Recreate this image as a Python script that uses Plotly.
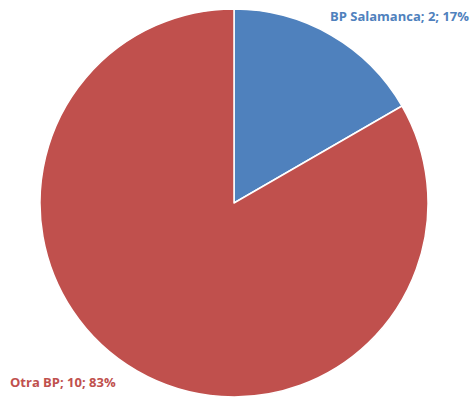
import plotly.graph_objects as go

labels = ["BP Salamanca", "Otra BP"]
values = [2, 10]
colors = ["#4F81BD", "#C0504D"]

total = sum(values)
texts = [f"{l}; {v}; {round(100 * v / total)}%" for l, v in zip(labels, values)]

W, H = 473, 399
fig = go.Figure(go.Pie(
    labels=labels, values=values, sort=False, direction="clockwise", rotation=0,
    marker=dict(colors=colors, line=dict(color="white", width=1.5)),
    textinfo="none", hoverinfo="label+value+percent",
    domain=dict(x=[40 / W, 428 / W], y=[2 / H, 390 / H]),
    showlegend=False,
))

fig.add_annotation(x=470 / W, y=1 - 16 / H, xref="paper", yref="paper", xanchor="right", yanchor="middle",
                   text=f"<b>{texts[0]}</b>", showarrow=False, borderpad=0,
                   font=dict(family="Open Sans", size=13, color=colors[0]))
fig.add_annotation(x=9 / W, y=1 - 382 / H, xref="paper", yref="paper", xanchor="left", yanchor="middle",
                   text=f"<b>{texts[1]}</b>", showarrow=False, borderpad=0,
                   font=dict(family="Open Sans", size=13, color=colors[1]))

fig.update_layout(width=W, height=H, margin=dict(l=0, r=0, t=0, b=0),
                  paper_bgcolor="white", plot_bgcolor="white")
fig.write_html("out.html", config={"displayModeBar": False},
               post_script="document.body.style.margin='0';")
